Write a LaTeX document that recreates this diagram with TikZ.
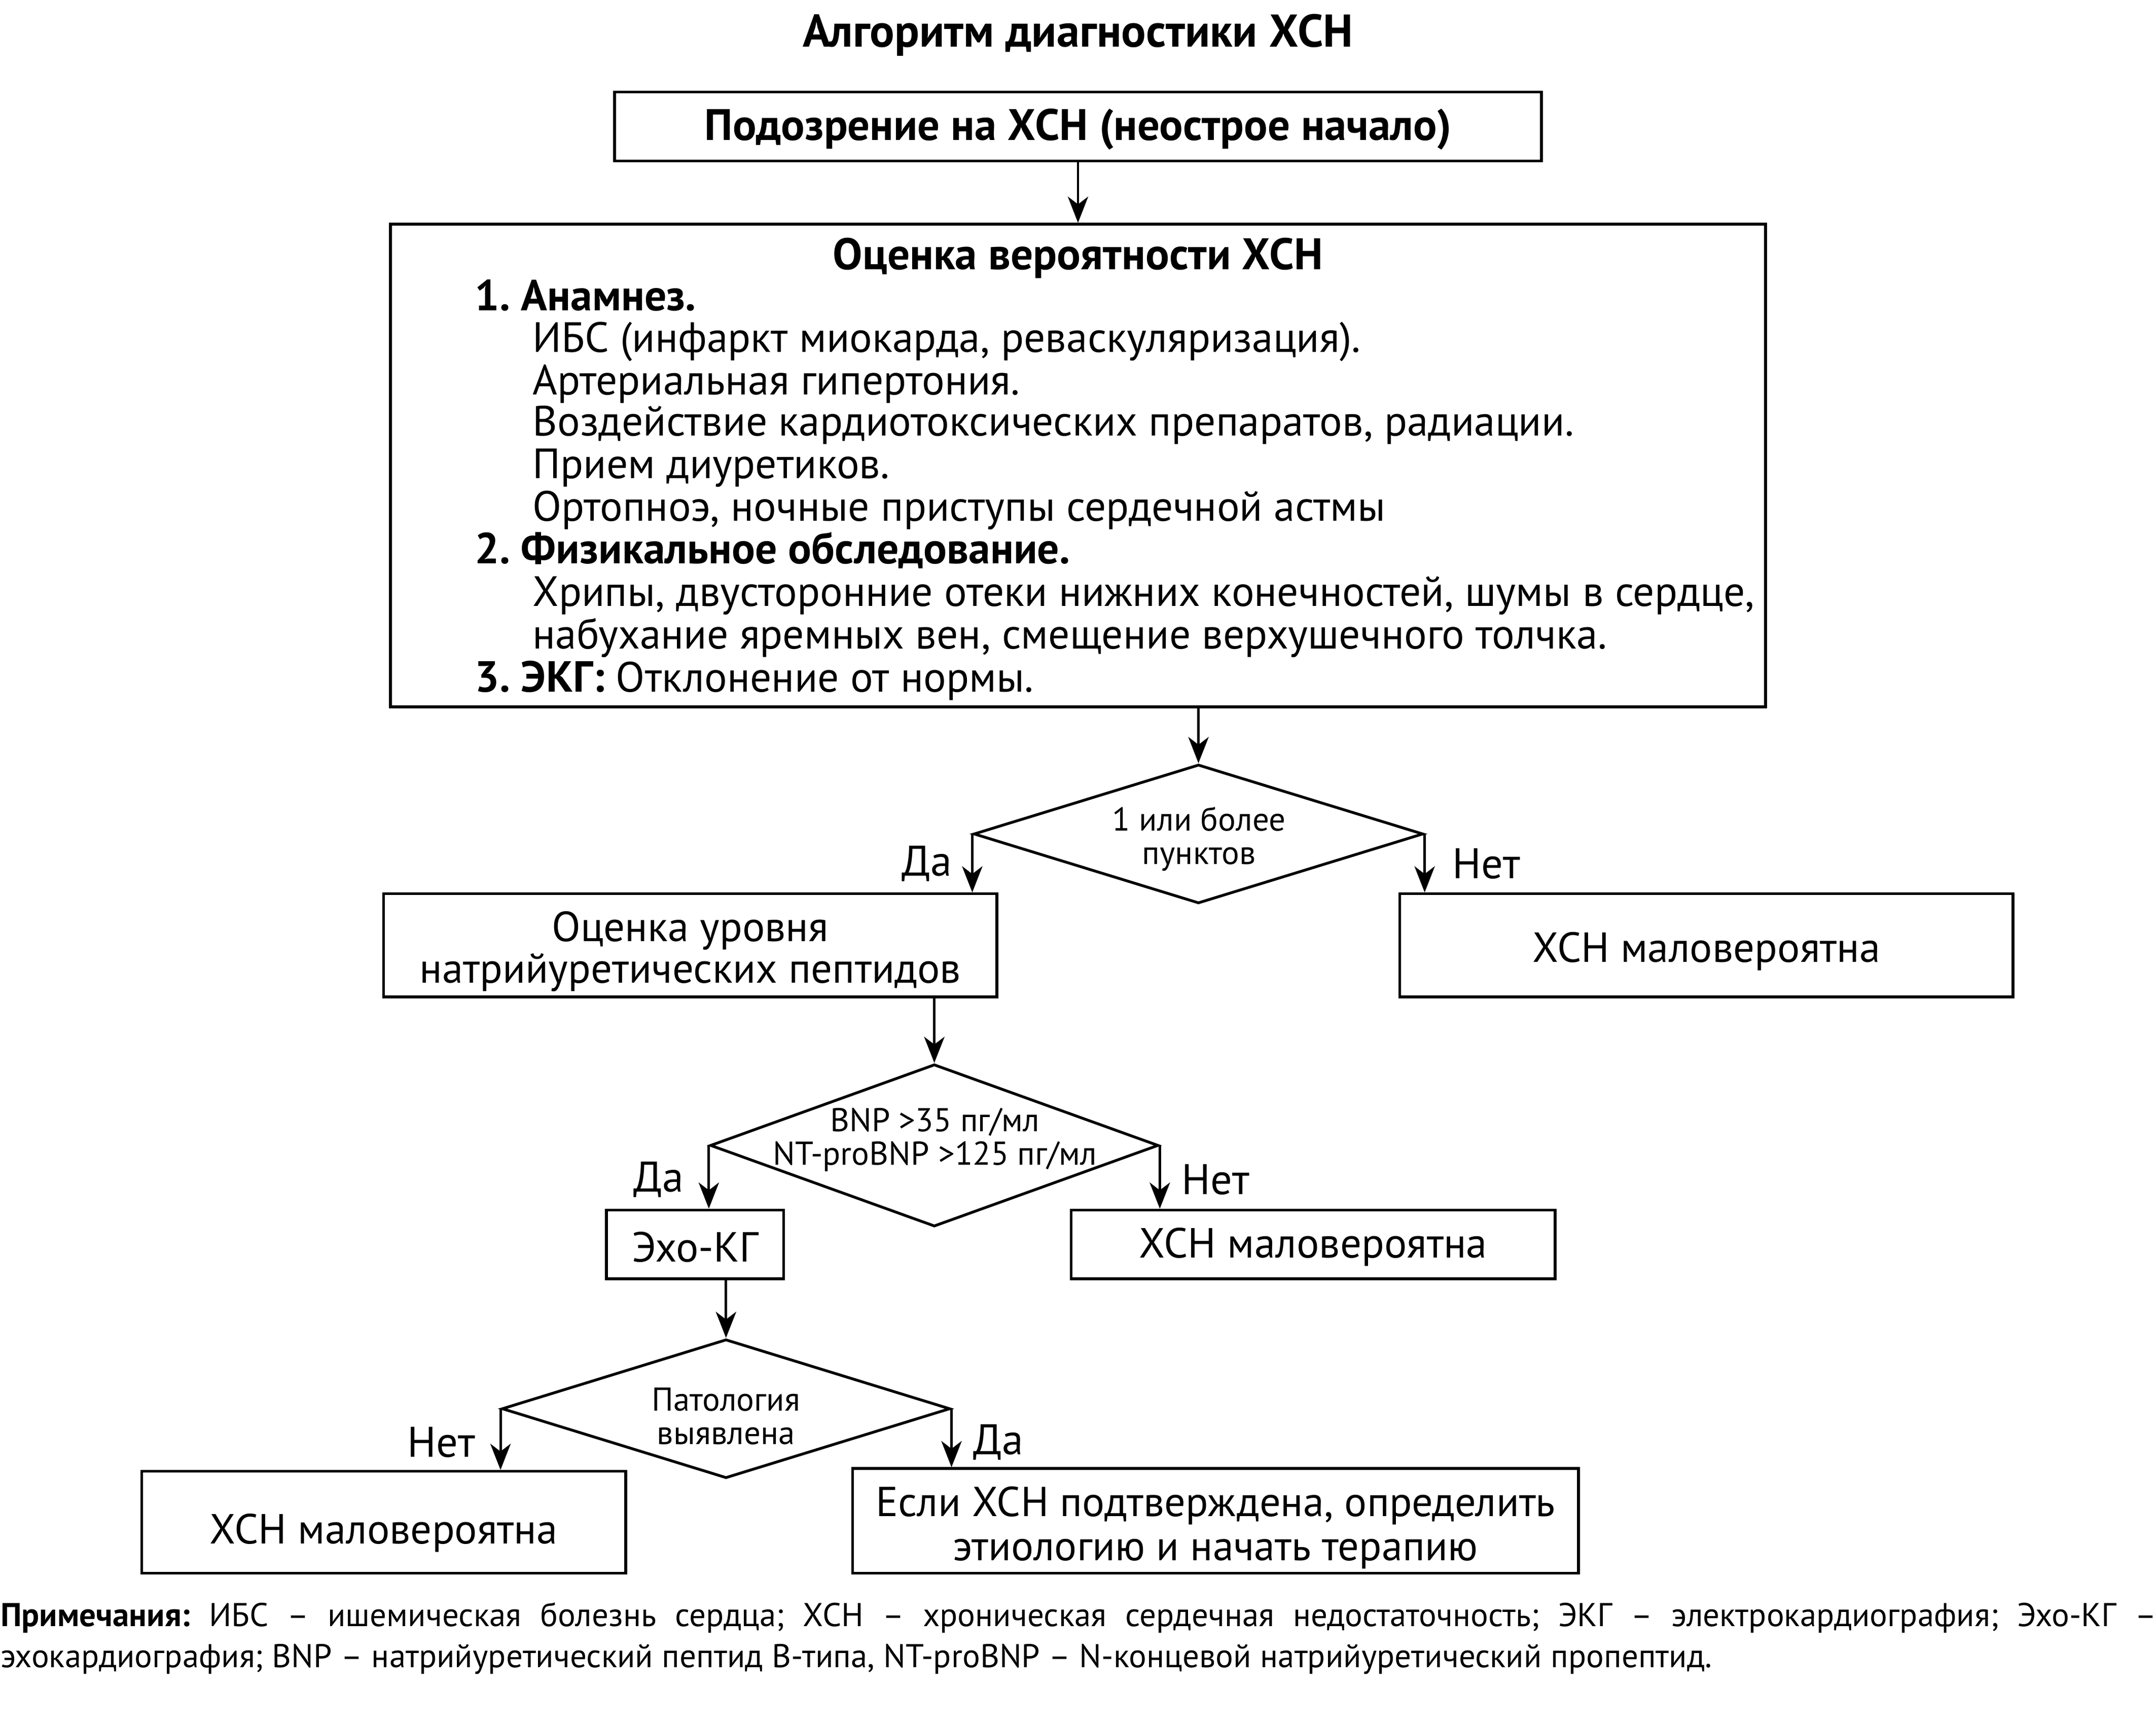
\documentclass[tikz,border=0pt]{standalone}
\usepackage{fontspec}
\setmainfont{PT Sans}
\usetikzlibrary{shapes.geometric,arrows.meta}
\newcommand{\fsz}[2]{\fontsize{#1pt}{#2pt}\selectfont}
\frenchspacing
\tikzset{
  box/.style={draw, line width=1pt, inner sep=0pt},
  btxt/.style={inner sep=0pt, align=center, font=\fsz{15.3}{15}},
  dia/.style={draw, diamond, line width=1pt, inner sep=0pt},
  arr/.style={line width=0.9pt, -{Stealth[length=9.5pt,width=7.4pt,inset=2.8pt]}},
  txt/.style={inner sep=0pt, font=\fsz{15.4}{15.5}},
  hd/.style={inner sep=0pt, font=\bfseries\fsz{15.8}{16}},
  dtxt/.style={inner sep=0pt, align=center, font=\fsz{12}{12.2}},
  lbl/.style={inner sep=0pt, font=\fsz{15.6}{16}}
}
\begin{document}
\frenchspacing
\begin{tikzpicture}[x=0.5pt,y=-0.5pt]
\useasboundingbox (0,0) rectangle (1568,1253);
\fill[white] (0,0) rectangle (1568,1253);

\node[inner sep=0pt, anchor=base, font=\bfseries\fsz{16.7}{17}] (title) at (784,34) {Алгоритм диагностики ХСН};

\node[box, minimum width=337pt, minimum height=25pt] (b1) at (784,92) {};
\node[inner sep=0pt, font=\bfseries\fsz{16}{16}] (b1t) at (784,94) {Подозрение на ХСН (неострое начало)};

\node[box, minimum width=500pt, minimum height=175.5pt] (b2) at (784,338.5) {};
\node[inner sep=0pt, anchor=base, font=\bfseries\fsz{16.1}{16}] (b2t) at (784,196) {Оценка вероятности ХСН};
\node[hd, anchor=base west] (l1) at (345,226) {1. Анамнез.};
\node[txt, anchor=base west] (l2) at (387,256) {ИБС (инфаркт миокарда, реваскуляризация).};
\node[txt, anchor=base west] (l3) at (387,287) {Артериальная гипертония.};
\node[txt, anchor=base west] (l4) at (387,317) {Воздействие кардиотоксических препаратов, радиации.};
\node[txt, anchor=base west] (l5) at (387,348) {Прием диуретиков.};
\node[txt, anchor=base west] (l6) at (387,379) {Ортопноэ, ночные приступы сердечной астмы};
\node[hd, anchor=base west] (l7) at (345,410) {2. Физикальное обследование.};
\node[txt, anchor=base west] (l8) at (387,441) {Хрипы, двусторонние отеки нижних конечностей, шумы в сердце,};
\node[txt, anchor=base west] (l9) at (387,472) {набухание яремных вен, смещение верхушечного толчка.};
\node[txt, anchor=base west] (l10) at (345,503) {{\bfseries\fsz{15.8}{16}3. ЭКГ:} Отклонение от нормы.};

\node[dia, minimum width=163.5pt, minimum height=50.5pt] (d1) at (871.6,606.5) {};
\node[dtxt] (d1t) at (872,610) {1 или более\\пунктов};

\node[box, minimum width=223pt, minimum height=37.5pt] (b3) at (502,687.5) {};
\node[btxt] (b3t) at (502,692) {Оценка уровня\\натрийуретических пептидов};
\node[box, minimum width=223pt, minimum height=37.5pt] (b4) at (1241,687.5) {};
\node[btxt] (b4t) at (1241,692) {ХСН маловероятна};

\node[dia, minimum width=163pt, minimum height=59pt] (d2) at (679.5,833) {};
\node[dtxt] (d2t) at (680,829) {BNP >35 пг/мл\\NT-proBNP >125 пг/мл};

\node[box, minimum width=64.5pt, minimum height=25pt] (b5) at (505.5,905) {};
\node[btxt] (b5t) at (505.5,907) {Эхо-КГ};
\node[box, minimum width=176pt, minimum height=25pt] (b6) at (955,905) {};
\node[btxt] (b6t) at (955,907) {ХСН маловероятна};

\node[dia, minimum width=163pt, minimum height=50.5pt] (d3) at (528,1024.5) {};
\node[dtxt] (d3t) at (528,1030) {Патология\\выявлена};

\node[box, minimum width=176pt, minimum height=37pt] (b7) at (279,1107) {};
\node[btxt] (b7t) at (279,1115) {ХСН маловероятна};
\node[box, minimum width=264pt, minimum height=38pt] (b8) at (884,1106) {};
\node[btxt, font=\fsz{15.2}{16}] (b8t) at (884,1111) {Если ХСН подтверждена, определить\\этиологию и начать терапию};

\draw[arr] (b1.south) -- (b2.north);
\draw[arr] (b2.south -| d1.north) -- (d1.north);
\draw[arr] (d1.west) -- (d1.west |- b3.north);
\draw[arr] (d1.east) -- (d1.east |- b4.north);
\draw[arr] (b3.south -| d2.north) -- (d2.north);
\draw[arr] (d2.west) -- (d2.west |- b5.north);
\draw[arr] (d2.east) -- (d2.east |- b6.north);
\draw[arr] (b5.south -| d3.north) -- (d3.north);
\draw[arr] (d3.west) -- (d3.west |- b7.north);
\draw[arr] (d3.east) -- (d3.east |- b8.north);

\node[lbl] (y1) at (674,628) {Да};
\node[lbl] (n1) at (1081,628) {Нет};
\node[lbl] (y2) at (479,858) {Да};
\node[lbl] (n2) at (884,858) {Нет};
\node[lbl] (n3) at (321,1049) {Нет};
\node[lbl] (y3) at (726,1049) {Да};

\node[anchor=north west, text width=784pt, inner sep=0pt, align=justify, font=\fsz{12}{15}] (notes) at (0,1165) {\frenchspacing\textbf{Примечания:} ИБС – ишемическая болезнь сердца; ХСН – хроническая сердечная недостаточность; ЭКГ – электрокардиография; Эхо-КГ –\linebreak эхокардиография; BNP – натрийуретический пептид B-типа, NT-proBNP – N-концевой натрийуретический пропептид.};
\end{tikzpicture}
\end{document}
